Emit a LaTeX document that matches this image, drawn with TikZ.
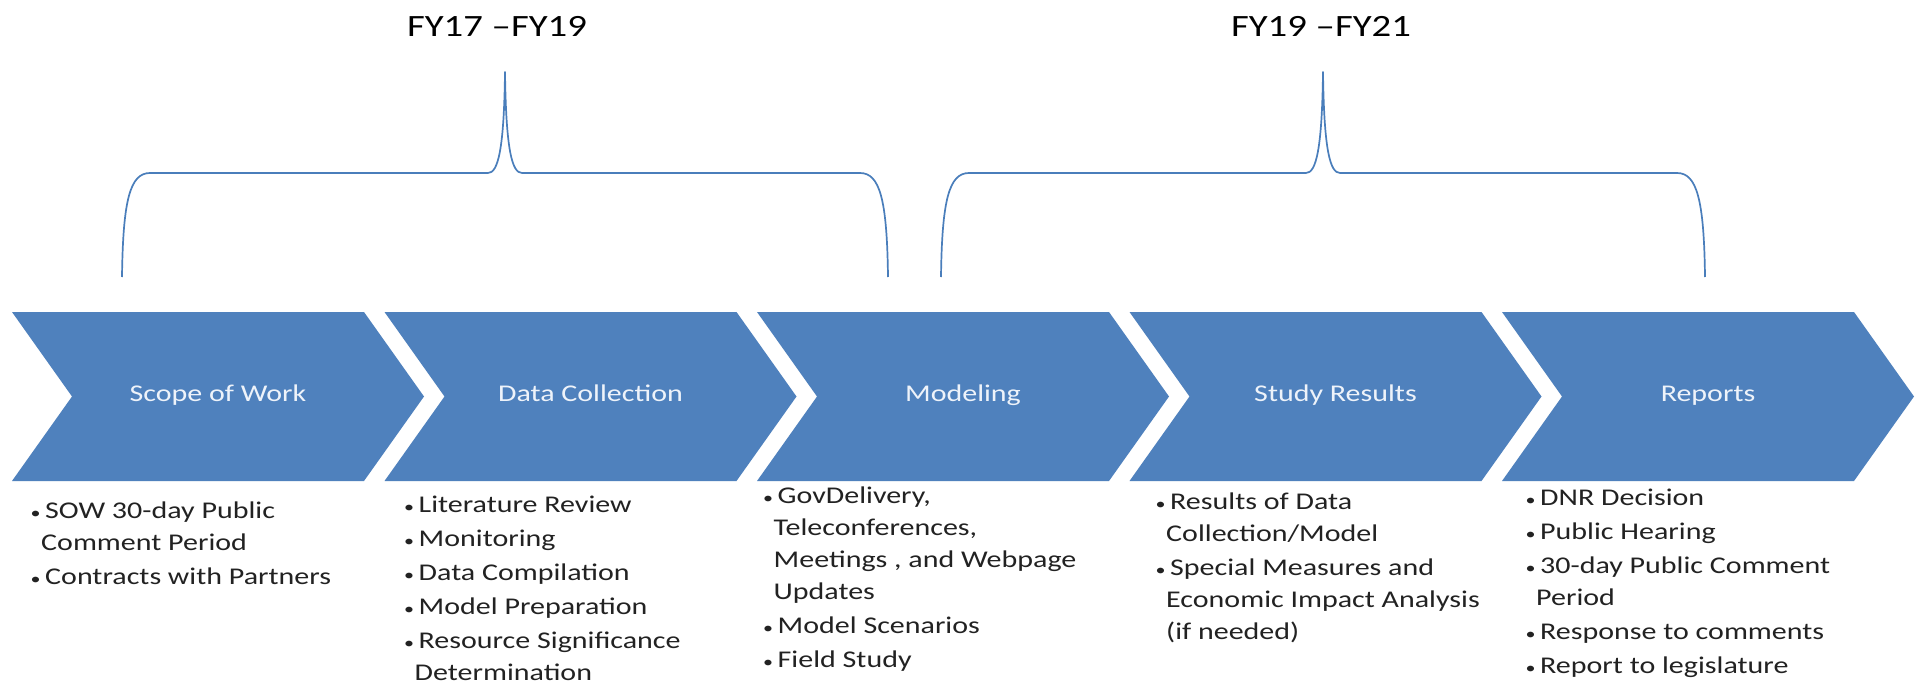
\documentclass[tikz,border=0pt]{standalone}
\usepackage{fontspec}
\setmainfont[FakeStretch=1.25]{Carlito}
\usetikzlibrary{positioning}

\definecolor{chevblue}{HTML}{4F81BD}
\definecolor{braceblue}{HTML}{4A7EBB}
\definecolor{tasktext}{HTML}{222222}
\definecolor{phasetext}{HTML}{EEF3FA}

\newcommand{\itm}{\hspace*{-10pt}\makebox[9pt][c]{\fontsize{16}{16}\selectfont •}\hspace{5pt}}

\tikzset{
  chevron/.style={fill=chevblue, draw=none},
  phase/.style={text=phasetext, font=\fontsize{24}{30}\selectfont, inner sep=0pt, anchor=base},
  tasks/.style={text=tasktext, font=\fontsize{24}{32}\selectfont, inner sep=0pt, anchor=base west},
  period/.style={text=black, font=\fontsize{31}{36}\selectfont, inner sep=0pt, anchor=base},
  yearbrace/.style={draw=braceblue, line width=1.7pt, line join=round}
}

\begin{document}
\begin{tikzpicture}[x=1pt, y=-1pt]
  \fill[white] (0,0) rectangle (1917,690);
  \useasboundingbox (0,0) rectangle (1917,690);

  % chevrons
  \foreach \i in {0,...,4} {
    \pgfmathsetmacro\xl{12+372.5*\i}
    \fill[chevron] (\xl,312) -- ++(352,0) -- ++(60,84.5) -- ++(-60,84.5)
      -- ++(-352,0) -- ++(60,-84.5) -- cycle;
  }

  \node[phase] (scope) at (218,401) {Scope of Work};
  \node[phase] (data) at (590.5,401) {Data Collection};
  \node[phase] (model) at (963,401) {Modeling};
  \node[phase] (results) at (1335.5,401) {Study Results};
  \node[phase] (reports) at (1708,401) {Reports};

  % braces
  \foreach \l/\m/\r in {122/505/888, 941/1323/1705} {
    \draw[yearbrace] (\l,277) .. controls ({\l+1},200) and ({\l+8},173) .. ({\l+28},173)
      -- ({\m-17},173) .. controls ({\m-7},173) and ({\m-1},150) .. (\m,72)
      .. controls ({\m+1},150) and ({\m+7},173) .. ({\m+17},173)
      -- ({\r-28},173) .. controls ({\r-8},173) and ({\r-1},200) .. (\r,277);
  }

  \node[period] (fyA) at (497,36.5) {FY17 –FY19};
  \node[period] (fyB) at (1321,36.5) {FY19 –FY21};

  % task lists
  \node[tasks] (sowlist) at (41,518) {\begin{tabular}[t]{@{}l@{}}
    \itm SOW 30-day Public\\ Comment Period\\[2pt]
    \itm Contracts with Partners
  \end{tabular}};
  \node[tasks] (datalist) at (414.5,512) {\begin{tabular}[t]{@{}l@{}}
    \itm Literature Review\\[2pt]
    \itm Monitoring\\[2pt]
    \itm Data Compilation\\[2pt]
    \itm Model Preparation\\[2pt]
    \itm Resource Significance\\ Determination
  \end{tabular}};
  \node[tasks] (modellist) at (773.5,503) {\begin{tabular}[t]{@{}l@{}}
    \itm GovDelivery,\\ Teleconferences,\\ Meetings , and Webpage\\ Updates\\[2pt]
    \itm Model Scenarios\\[2pt]
    \itm Field Study
  \end{tabular}};
  \node[tasks] (resultlist) at (1166,509) {\begin{tabular}[t]{@{}l@{}}
    \itm Results of Data\\ Collection/Model\\[2pt]
    \itm Special Measures and\\ Economic Impact Analysis\\ (if needed)
  \end{tabular}};
  \node[tasks] (reportlist) at (1536,505) {\begin{tabular}[t]{@{}l@{}}
    \itm DNR Decision\\[2pt]
    \itm Public Hearing\\[2pt]
    \itm 30-day Public Comment\\ Period\\[2pt]
    \itm Response to comments\\[2pt]
    \itm Report to legislature
  \end{tabular}};
\end{tikzpicture}
\end{document}
